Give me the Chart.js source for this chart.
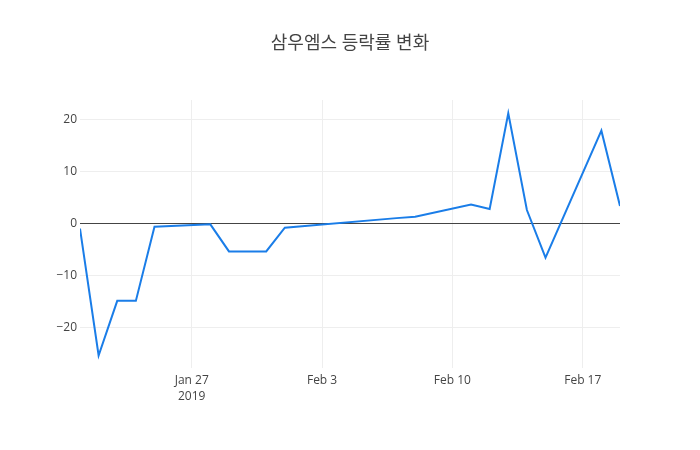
<!DOCTYPE html>
<html>
<head>
<meta charset="utf-8">
<script src="https://cdn.jsdelivr.net/npm/chart.js@4.4.1/dist/chart.umd.min.js"></script>
<style>
  html, body { margin: 0; padding: 0; background: #fff; }
  #wrap { width: 700px; height: 450px; }
</style>
</head>
<body>
<div id="wrap"><canvas id="rateChart" width="700" height="450"></canvas></div>
<script>
// trading days (2019) and daily change rate (%)
const dates = ['2019-01-21','2019-01-22','2019-01-23','2019-01-24','2019-01-25',
               '2019-01-28','2019-01-29','2019-01-30','2019-01-31','2019-02-01',
               '2019-02-07','2019-02-08','2019-02-11','2019-02-12','2019-02-13',
               '2019-02-14','2019-02-15','2019-02-18','2019-02-19'];
const rates = [-1.0, -25.4, -14.9, -14.9, -0.64,
               -0.2, -5.4, -5.4, -5.4, -0.85,
               1.0, 1.28, 3.6, 2.76, 21.15,
               2.56, -6.6, 17.8, 3.33];
const xTickDates = ['2019-01-27','2019-02-03','2019-02-10','2019-02-17'];
const xTickLabels = [['Jan 27','2019'], 'Feb 3', 'Feb 10', 'Feb 17'];
const yTicks = [-20, -10, 0, 10, 20];

const startDay = Date.UTC(2019, 0, 21);
function dayOf(s) {
    const p = s.split('-').map(Number);
    return (Date.UTC(p[0], p[1] - 1, p[2]) - startDay) / 86400000;
}

const points = dates.map((d, i) => ({ x: dayOf(d), y: rates[i] }));
const xTickVals = xTickDates.map(dayOf);
const fontFamily = "'Open Sans', 'Noto Sans CJK KR', sans-serif";

new Chart(document.getElementById('rateChart').getContext('2d'), {
    type: 'line',
    data: {
        datasets: [{
            data: points,
            borderColor: '#1a7de8', borderWidth: 2,
            pointRadius: 0, tension: 0, fill: false
        }]
    },
    options: {
        responsive: false, animation: false,
        layout: { padding: { left: 40, right: 80, top: 0, bottom: 0 } },
        plugins: {
            legend: { display: false },
            tooltip: { enabled: false },
            title: {
                display: true, text: '삼우엠스 등락률 변화',
                color: '#444', font: { family: fontFamily, size: 18, weight: 'normal' },
                padding: { top: 33, bottom: 45.4 }
            }
        },
        scales: {
            x: {
                type: 'linear', min: 0, max: dayOf('2019-02-19'),
                border: { display: false },
                grid: { color: '#eee', drawTicks: false },
                afterBuildTicks: s => { s.ticks = xTickVals.map(v => ({ value: v })); },
                afterFit: s => { s.height = 82; },
                ticks: {
                    color: '#444', padding: 4, maxRotation: 0, autoSkip: false,
                    font: { family: fontFamily, size: 12, lineHeight: 1.35 },
                    callback: v => xTickLabels[xTickVals.indexOf(v)]
                }
            },
            y: {
                min: -27.8, max: 23.7,
                border: { display: false },
                grid: {
                    drawTicks: false,
                    color: c => c.tick && c.tick.value === 0 ? '#444' : '#eee',
                    lineWidth: 1
                },
                afterBuildTicks: s => { s.ticks = yTicks.map(v => ({ value: v })); },
                afterFit: s => { s.width = 40; },
                ticks: {
                    color: '#444', padding: 3,
                    font: { family: fontFamily, size: 12 },
                    callback: v => v < 0 ? '\u2212' + Math.abs(v) : String(v)
                }
            }
        }
    },
    plugins: [{
        id: 'centerTitle',
        // title box spans the whole canvas so it centres at 350
        afterLayout: chart => {
            const t = chart.titleBlock;
            if (t) { t.left = 0; t.right = chart.width; t.width = chart.width; }
        }
    }]
});
</script>
</body>
</html>
